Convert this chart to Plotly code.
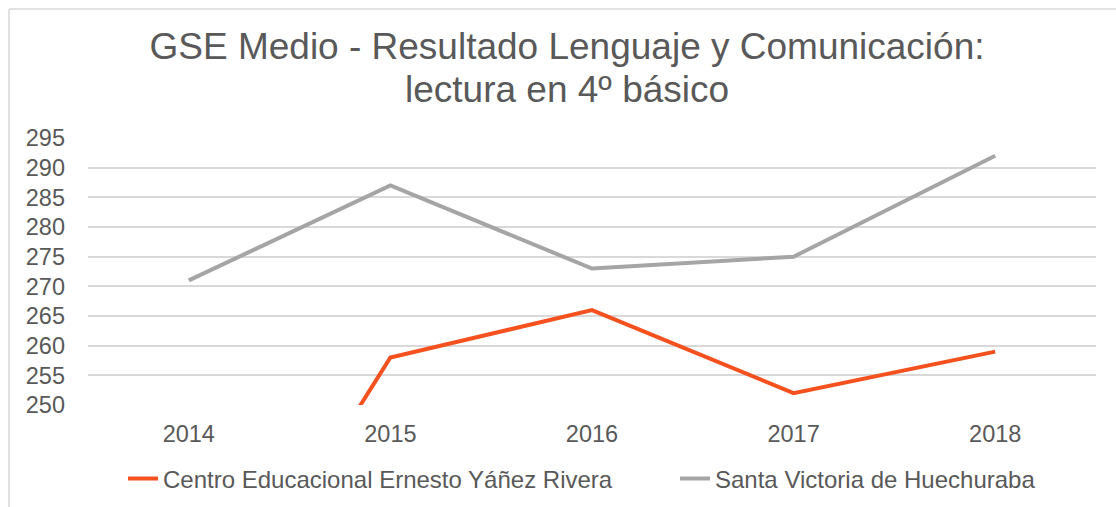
import plotly.graph_objects as go

years = ["2014", "2015", "2016", "2017", "2018"]
centro = [204, 258, 266, 252, 259]
santa = [271, 287, 273, 275, 292]
series_names = ["Centro Educacional Ernesto Yáñez Rivera", "Santa Victoria de Huechuraba"]
y_ticks = [250, 255, 260, 265, 270, 275, 280, 285, 290, 295]
title_lines = ["GSE Medio - Resultado Lenguaje y Comunicación:", "lectura en 4º básico"]

FONT = "Liberation Sans, Arial, sans-serif"
TXT = "#595959"

W, H = 1116, 507
L, R, T, B = 88, 20, 138, 102
pw, ph = W - L - R, H - T - B

def px_x(p):
    return (p - L) / pw

def px_y(p):
    return (H - B - p) / ph

fig = go.Figure()
fig.add_trace(go.Scatter(x=years, y=centro, mode="lines", name=series_names[0],
                         line=dict(color="#F4511E", width=4), legend="legend"))
fig.add_trace(go.Scatter(x=years, y=santa, mode="lines", name=series_names[1],
                         line=dict(color="#A5A5A5", width=4), legend="legend2"))

leg_common = dict(orientation="h", xanchor="left", yanchor="middle",
                  font=dict(family=FONT, size=24, color=TXT), bgcolor="rgba(0,0,0,0)")

fig.update_layout(
    width=W, height=H,
    margin=dict(l=L, r=R, t=T, b=B, pad=0, autoexpand=False),
    paper_bgcolor="white", plot_bgcolor="white",
    font=dict(family=FONT, color=TXT, size=23),
    title=dict(text=title_lines[0], x=567 / W, xanchor="center", xref="container",
               y=1 - 46.5 / H, yanchor="middle", yref="container",
               font=dict(family=FONT, size=37, color=TXT)),
    annotations=[dict(text=title_lines[1], xref="paper", yref="paper",
                      x=px_x(567), xanchor="center", y=px_y(89), yanchor="middle",
                      showarrow=False, font=dict(family=FONT, size=37, color=TXT))],
    showlegend=True,
    legend=dict(x=px_x(123), y=px_y(479), **leg_common),
    legend2=dict(x=px_x(675), y=px_y(479), **leg_common),
    xaxis=dict(type="category", range=[-0.5, 4.5], showgrid=False, showline=False,
               zeroline=False, ticks="",
               tickfont=dict(family=FONT, size=23.5, color=TXT), ticklabelstandoff=12),
    yaxis=dict(range=[250, 295], tickvals=y_ticks, showgrid=True, gridcolor="#D9D9D9",
               gridwidth=1.5, zeroline=False, showline=False, ticks="",
               tickfont=dict(family=FONT, size=23.5, color=TXT), ticklabelstandoff=22),
    shapes=[
        dict(type="line", xref="paper", yref="paper", x0=px_x(9), x1=px_x(9),
             y0=px_y(9), y1=px_y(520), line=dict(color="#D9D9D9", width=1.5)),
        dict(type="line", xref="paper", yref="paper", x0=px_x(9), x1=px_x(1130),
             y0=px_y(9), y1=px_y(9), line=dict(color="#D9D9D9", width=1.5)),
    ],
)

fig.write_html("out.html", config={"displayModeBar": False},
               post_script="document.body.style.margin='0';document.body.style.overflow='hidden';")
